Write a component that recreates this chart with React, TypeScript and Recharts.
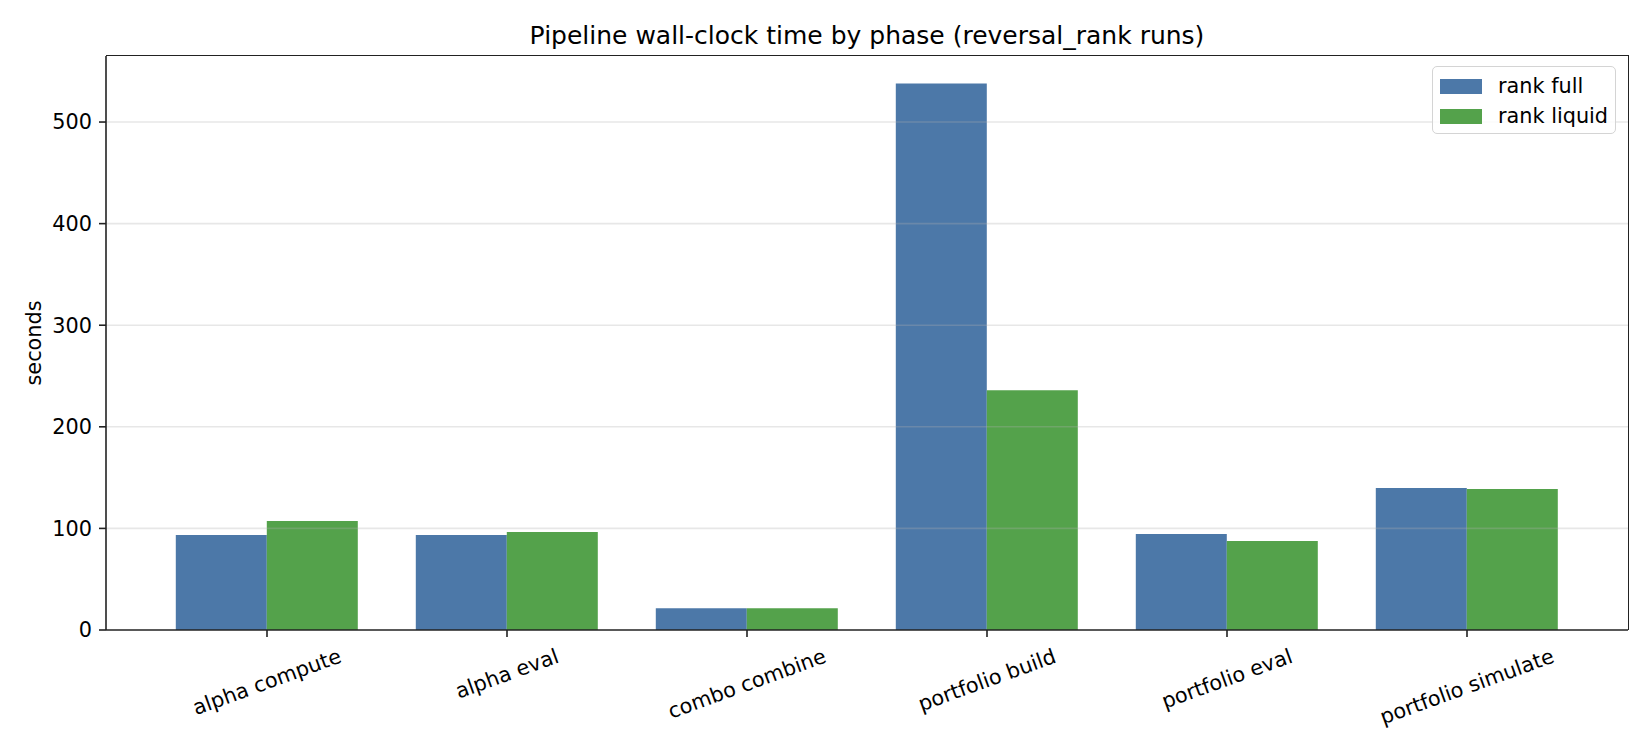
import { BarChart, Bar, XAxis, YAxis, ReferenceLine, Legend } from 'recharts';

const phases = ['alpha compute', 'alpha eval', 'combo combine', 'portfolio build', 'portfolio eval', 'portfolio simulate'];
const rankFull = [93.5, 93.5, 21.5, 538, 94.5, 139.8];
const rankLiquid = [107.3, 96.5, 21.5, 236, 87.6, 138.8];
const yTicks = [0, 100, 200, 300, 400, 500];

const data = phases.map((phase, i) => ({ phase, full: rankFull[i], liquid: rankLiquid[i] }));

const FONT = '"DejaVu Sans", sans-serif';
const FS = 20.8;
const AXIS = '#222';
const BLUE = '#4c78a8';
const GREEN = '#54a24b';

let ctx: CanvasRenderingContext2D | null = null;
function textWidth(s: string) {
  if (!ctx) ctx = document.createElement('canvas').getContext('2d');
  if (!ctx) return s.length * FS * 0.6;
  ctx.font = `${FS}px ${FONT}`;
  return ctx.measureText(s).width;
}

function XTick(props: any) {
  const { x, y, payload } = props;
  const label = String(payload.value);
  const rad = (20 * Math.PI) / 180;
  const w = textWidth(label);
  const h = FS * 1.16;
  const bh = w * Math.sin(rad) + h * Math.cos(rad);
  const cy = y + bh / 2;
  return (
    <text x={x} y={cy} textAnchor="middle" dominantBaseline="central" fontSize={FS} fontFamily={FONT} fill="#000"
      transform={`rotate(-20, ${x}, ${cy})`}>
      {label}
    </text>
  );
}

function YLabel(props: any) {
  const vb = props.viewBox || { x: 0, y: 56, height: 574 };
  const cx = 34;
  const cy = vb.y + vb.height / 2;
  return (
    <text x={cx} y={cy} textAnchor="middle" dominantBaseline="central" fontSize={FS} fontFamily={FONT} fill="#000"
      transform={`rotate(-90, ${cx}, ${cy})`}>
      seconds
    </text>
  );
}

function LegendBox() {
  const items = [
    { name: 'rank full', color: BLUE },
    { name: 'rank liquid', color: GREEN },
  ];
  return (
    <div style={{ width: 184, height: 68, boxSizing: 'border-box', border: '1.5px solid #d4d4d4', borderRadius: 5, background: 'rgba(255,255,255,0.8)', paddingTop: 4 }}>
      {items.map((it) => (
        <div key={it.name} style={{ display: 'flex', alignItems: 'center', height: 30, paddingLeft: 7 }}>
          <div style={{ width: 42, height: 15, background: it.color, marginRight: 16 }} />
          <span style={{ fontFamily: FONT, fontSize: FS, color: '#000', lineHeight: '24px' }}>{it.name}</span>
        </div>
      ))}
    </div>
  );
}

export default function App() {
  return (
    <div style={{ position: 'absolute', left: 0, top: 0, width: 1650, height: 750, background: '#fff' }}>
      <div style={{ position: 'absolute', left: 106, top: 21, width: 1522, textAlign: 'center', fontFamily: FONT, fontSize: 25, lineHeight: '30px', color: '#000' }}>
        Pipeline wall-clock time by phase (reversal_rank runs)
      </div>
      <BarChart width={1650} height={750} data={data} margin={{ top: 56, right: 22, bottom: 0, left: 0 }}
        barGap={0} barCategoryGap="12%" style={{ fontFamily: FONT }}>
        <XAxis dataKey="phase" height={120} padding={{ left: 41, right: 41 }} interval={0}
          tick={<XTick />} tickSize={7} tickMargin={7}
          tickLine={{ stroke: AXIS, strokeWidth: 1.6 }} axisLine={{ stroke: AXIS, strokeWidth: 1.6 }} />
        <YAxis width={106} domain={[0, 565]} ticks={yTicks} interval={0} allowDataOverflow
          tick={{ fill: '#000', fontSize: FS, fontFamily: FONT }} tickSize={7} tickMargin={7}
          tickLine={{ stroke: AXIS, strokeWidth: 1.6 }} axisLine={{ stroke: AXIS, strokeWidth: 1.6 }}
          label={<YLabel />} />
        <Bar dataKey="full" name="rank full" fill={BLUE} isAnimationActive={false} />
        <Bar dataKey="liquid" name="rank liquid" fill={GREEN} isAnimationActive={false} />
        {yTicks.filter((t) => t > 0).map((t) => (
          <ReferenceLine key={t} y={t} stroke="#b0b0b0" strokeOpacity={0.3} strokeWidth={1.6} />
        ))}
        <Legend layout="vertical" align="center" verticalAlign="middle" content={<LegendBox />}
          wrapperStyle={{ position: 'absolute', left: 1432, top: 66, width: 184, height: 68 }} />
      </BarChart>
      {/* top and right spines */}
      <div style={{ position: 'absolute', left: 106, top: 55.2, width: 1522.8, height: 575, boxSizing: 'border-box',
        borderTop: `1.6px solid ${AXIS}`, borderRight: `1.6px solid ${AXIS}`, pointerEvents: 'none' }} />
    </div>
  );
}
